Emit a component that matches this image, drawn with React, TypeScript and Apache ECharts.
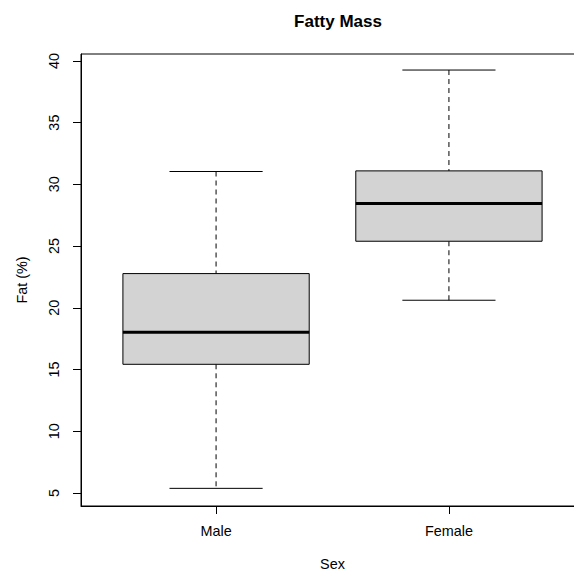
import React, { useEffect, useRef } from "react";
import * as echarts from "echarts";

const categories = ["Male", "Female"];
const lowerWhisker = [5.37, 20.61];
const q1 = [15.42, 25.39];
const median = [18.01, 28.44];
const q3 = [22.77, 31.09];
const upperWhisker = [31.04, 39.26];
const yTicks = [5, 10, 15, 20, 25, 30, 35, 40];
const Y_MIN = 3.94;
const Y_MAX = 40.56;

const FONT = "'Liberation Sans', Arial, Helvetica, sans-serif";

export default function App() {
  const ref = useRef<HTMLDivElement>(null);
  useEffect(() => {
    if (!ref.current) return;
    const chart = echarts.init(ref.current, null, { renderer: "svg" });
    const data = categories.map((c, i) => [i + 1, lowerWhisker[i], q1[i], median[i], q3[i], upperWhisker[i]]);
    chart.setOption({
      animation: false,
      backgroundColor: "#fff",
      title: {
        text: "Fatty Mass",
        left: 333,
        top: 8,
        textAlign: "center",
        textStyle: { fontFamily: FONT, fontSize: 17, fontWeight: "bold", color: "#000" },
      },
      grid: {
        left: 81,
        top: 54,
        width: 503,
        height: 452,
        outerBoundsMode: "none",
        containLabel: false,
        show: true,
        borderColor: "#000",
        borderWidth: 1,
        backgroundColor: "transparent",
      },
      xAxis: {
        type: "value",
        min: 0.42,
        max: 2.58,
        name: "Sex",
        nameLocation: "middle",
        nameGap: 51,
        nameTextStyle: { fontFamily: FONT, fontSize: 14.4, color: "#000" },
        splitLine: { show: false },
        axisLine: { show: true, onZero: false, lineStyle: { color: "#000", width: 1 } },
        axisTick: { show: true, customValues: [1, 2], length: 8, lineStyle: { color: "#000" } },
        axisLabel: {
          customValues: [1, 2],
          formatter: (v: number) => categories[Math.round(v) - 1] ?? "",
          fontFamily: FONT,
          fontSize: 14.4,
          color: "#000",
          margin: 18,
        },
      },
      yAxis: {
        type: "value",
        min: Y_MIN,
        max: Y_MAX,
        name: "Fat (%)",
        nameLocation: "middle",
        nameRotate: 90,
        nameGap: 52,
        nameTextStyle: { fontFamily: FONT, fontSize: 14.4, color: "#000" },
        splitLine: { show: false },
        axisLine: { show: true, onZero: false, lineStyle: { color: "#000", width: 1 } },
        axisTick: { show: true, customValues: yTicks, length: 8, lineStyle: { color: "#000" } },
        axisLabel: {
          customValues: yTicks,
          rotate: 90,
          fontFamily: FONT,
          fontSize: 14.4,
          color: "#000",
          margin: 20,
        },
      },
      series: [
        {
          type: "custom",
          clip: false,
          data,
          encode: { x: 0, y: [1, 2, 3, 4, 5] },
          renderItem: (params: any, api: any) => {
            const x = api.value(0);
            const lo = api.coord([x, api.value(1)]);
            const b1 = api.coord([x, api.value(2)]);
            const md = api.coord([x, api.value(3)]);
            const b3 = api.coord([x, api.value(4)]);
            const hi = api.coord([x, api.value(5)]);
            const halfBox = api.size([0.4, 0])[0];
            const halfCap = api.size([0.2, 0])[0];
            const cx = lo[0];
            const dashed = { stroke: "#000", lineWidth: 1, lineDash: [5, 4], fill: null };
            const solid = { stroke: "#000", lineWidth: 1, fill: null };
            return {
              type: "group",
              children: [
                { type: "line", shape: { x1: cx, y1: hi[1], x2: cx, y2: b3[1] }, style: dashed },
                { type: "line", shape: { x1: cx, y1: b1[1], x2: cx, y2: lo[1] }, style: dashed },
                { type: "line", shape: { x1: cx - halfCap, y1: hi[1], x2: cx + halfCap, y2: hi[1] }, style: solid },
                { type: "line", shape: { x1: cx - halfCap, y1: lo[1], x2: cx + halfCap, y2: lo[1] }, style: solid },
                {
                  type: "rect",
                  shape: { x: cx - halfBox, y: b3[1], width: 2 * halfBox, height: b1[1] - b3[1] },
                  style: { fill: "#D3D3D3", stroke: "#000", lineWidth: 1 },
                },
                {
                  type: "line",
                  shape: { x1: cx - halfBox, y1: md[1], x2: cx + halfBox, y2: md[1] },
                  style: { stroke: "#000", lineWidth: 3 },
                },
              ],
            };
          },
        },
      ],
    });
    return () => chart.dispose();
  }, []);
  return (
    <div style={{ position: "fixed", left: 0, top: 0, width: 574, height: 573, overflow: "hidden", background: "#fff" }}>
      <div ref={ref} style={{ width: 620, height: 573 }} />
    </div>
  );
}
